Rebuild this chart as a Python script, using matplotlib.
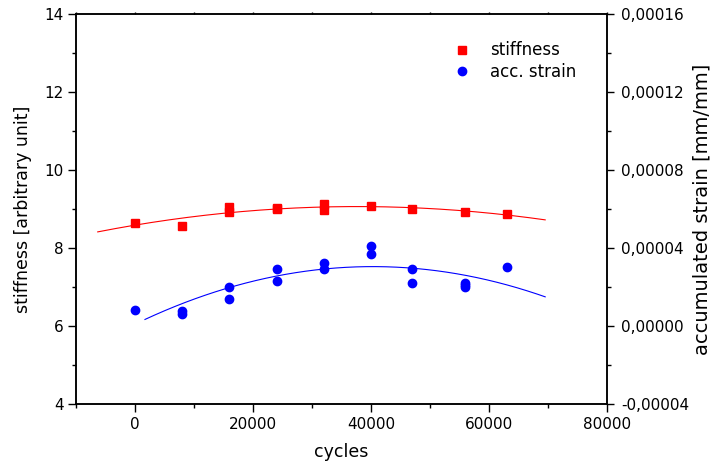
import numpy as np
import matplotlib.pyplot as plt
from matplotlib.ticker import MultipleLocator, FuncFormatter

plt.rcParams['font.family'] = ['DejaVu Sans']

# stiffness data (left axis)
stiff_cycles = [0, 8000, 16000, 16000, 24000, 24000, 32000, 32000, 40000, 47000, 56000, 63000]
stiffness = [8.655, 8.56, 9.05, 8.93, 9.02, 8.99, 9.12, 8.97, 9.07, 9.0, 8.93, 8.875]

# accumulated strain data (right axis)
strain_cycles = [0, 8000, 8000, 16000, 16000, 24000, 24000, 32000, 32000,
                 40000, 40000, 47000, 47000, 56000, 56000, 56000, 63000]
strain = [8.2e-6, 7.9e-6, 6.0e-6, 2.02e-5, 1.4e-5, 2.92e-5, 2.31e-5, 3.25e-5, 2.94e-5,
          4.1e-5, 3.71e-5, 2.92e-5, 2.22e-5, 2.2e-5, 2.1e-5, 2.0e-5, 3.01e-5]

# fit ranges
stiff_fit_range = (-6300, 69500)
strain_fit_range = (1700, 69500)

fig = plt.figure(figsize=(7.16, 4.63), dpi=100)
ax = fig.add_axes([0.106, 0.127, 0.742, 0.843])
ax2 = ax.twinx()

red = '#ff0000'
blue = '#0000ff'

# stiffness points + quadratic fit
ax.plot(stiff_cycles, stiffness, 's', color=red, markersize=6, label='stiffness')
c1 = np.polyfit(stiff_cycles, stiffness, 2)
xf = np.linspace(*stiff_fit_range, 200)
ax.plot(xf, np.polyval(c1, xf), '-', color=red, lw=0.8)

# strain points + quadratic fit
ax2.plot(strain_cycles, strain, 'o', color=blue, markersize=6, label='acc. strain')
c2 = np.polyfit(strain_cycles, strain, 2)
xf2 = np.linspace(*strain_fit_range, 200)
ax2.plot(xf2, np.polyval(c2, xf2), '-', color=blue, lw=0.8)

ax.set_xlim(-10000, 80000)
ax.set_ylim(4, 14)
ax2.set_ylim(-0.00004, 0.00016)

ax.xaxis.set_major_locator(MultipleLocator(20000))
ax.xaxis.set_minor_locator(MultipleLocator(10000))
ax.yaxis.set_major_locator(MultipleLocator(2))
ax.yaxis.set_minor_locator(MultipleLocator(1))
ax2.yaxis.set_major_locator(MultipleLocator(0.00004))
ax2.yaxis.set_minor_locator(MultipleLocator(0.00002))
ax2.yaxis.set_major_formatter(FuncFormatter(lambda v, p: f'{v:.5f}'.replace('.', ',')))

for a in (ax, ax2):
    for s in a.spines.values():
        s.set_linewidth(1.1)
ax.tick_params(axis='x', which='major', direction='out', length=6, width=1, labelsize=11, pad=3)
ax.tick_params(axis='x', which='minor', direction='out', length=3, width=1)
ax.tick_params(axis='y', which='major', direction='out', length=6, width=1, labelsize=11, pad=3)
ax.tick_params(axis='y', which='minor', direction='out', length=3, width=1)
ax2.tick_params(axis='y', which='major', direction='out', length=5, width=1, labelsize=11, pad=5)
ax2.tick_params(axis='y', which='minor', direction='out', length=3, width=1)
# tiny ticks on the top spine
ax.tick_params(axis='x', which='both', top=True)
for t in ax.xaxis.get_major_ticks() + ax.xaxis.get_minor_ticks():
    t.tick2line.set_markersize(1.5)

ax.set_xlabel('cycles', fontsize=12.5, va='center')
ax.xaxis.set_label_coords(0.5, -0.123)
ax.set_ylabel('stiffness [arbitrary unit]', fontsize=12.5, va='center')
ax.yaxis.set_label_coords(-0.1, 0.5)
ax2.set_ylabel('accumulated strain [mm/mm]', fontsize=14, va='center')
ax2.yaxis.set_label_coords(1.179, 0.5)

h1, l1 = ax.get_legend_handles_labels()
h2, l2 = ax2.get_legend_handles_labels()
ax2.legend(h1 + h2, l1 + l2, loc='upper left', bbox_to_anchor=(0.68, 0.968), frameon=False,
           fontsize=12, handletextpad=1.05, labelspacing=0.2, handlelength=1.2)

fig.savefig('out.png', dpi=100)
